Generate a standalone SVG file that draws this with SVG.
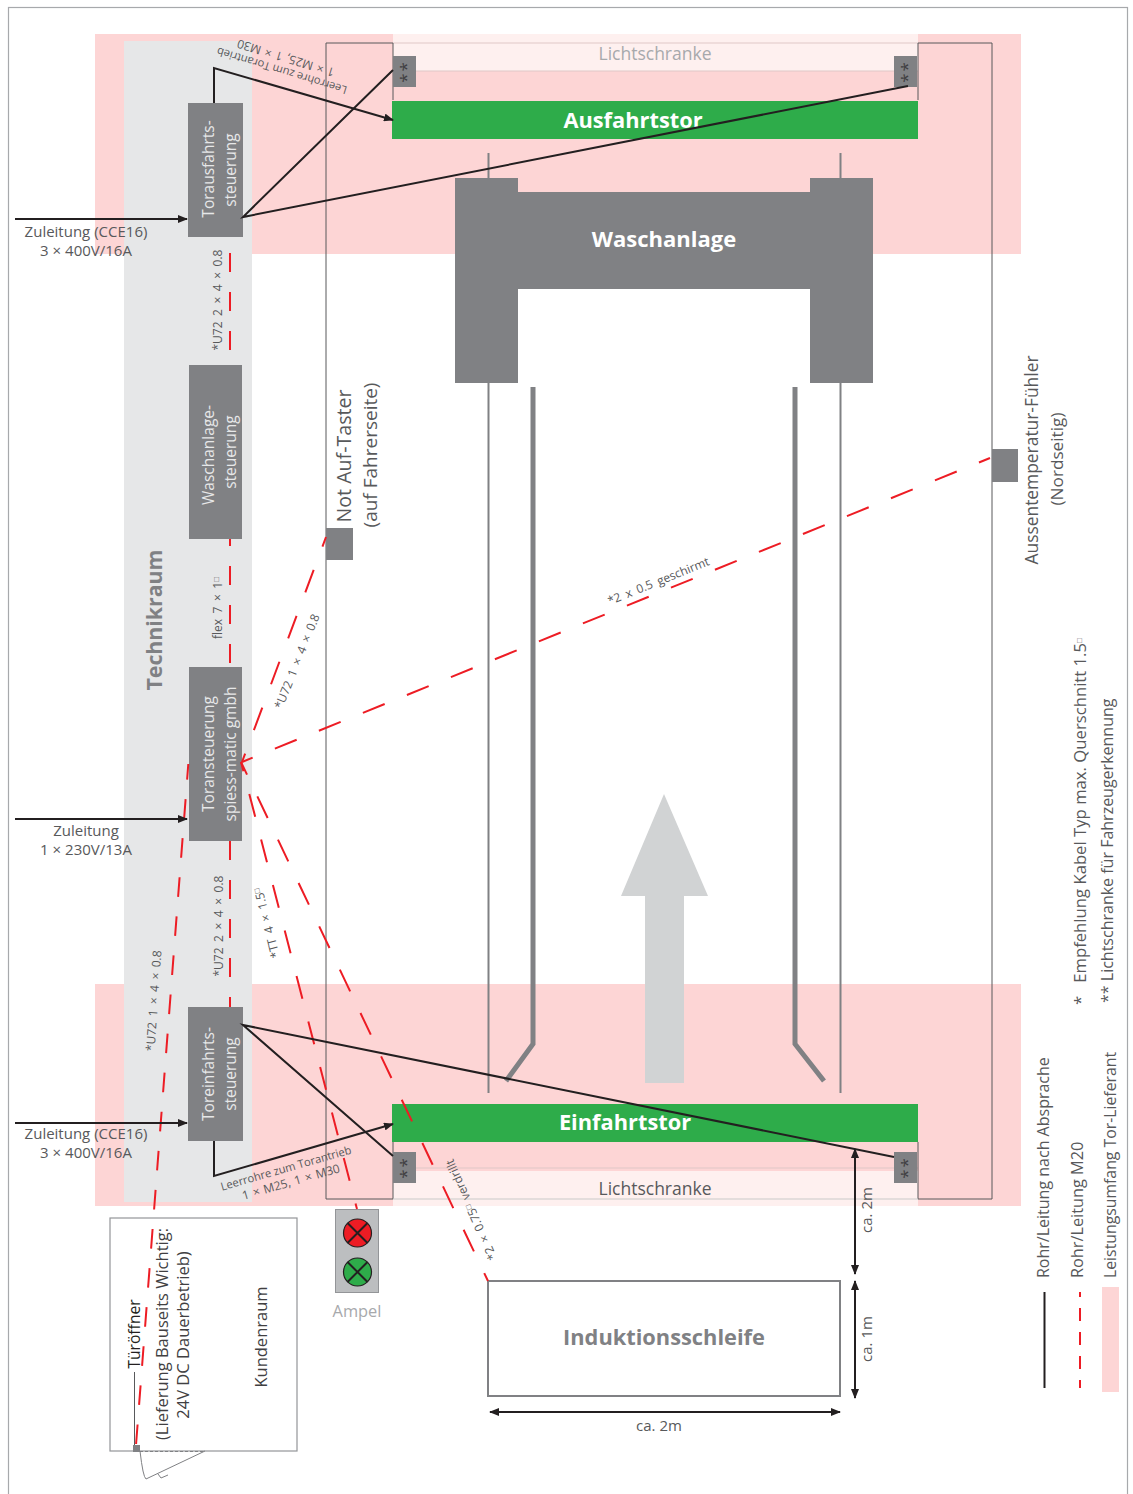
<svg xmlns="http://www.w3.org/2000/svg" width="1133" height="1494" viewBox="0 0 1133 1494">
<style>
text{font-family:"Open Sans","Noto Sans","Liberation Sans",sans-serif;fill:#58595b;font-size:15px}
.w{fill:#e6e7e8;font-size:15.500px;text-anchor:middle}
.m{text-anchor:middle}
.l{font-size:17.500px;text-anchor:middle}
.b{font-size:21.800px;font-weight:700;text-anchor:middle;fill:#fff}
.s{font-size:12px;text-anchor:middle;word-spacing:2.400px}
.h{font-size:12px;text-anchor:middle;word-spacing:1.200px}
.t{font-size:11.200px;text-anchor:middle}
.g{fill:#a7a9ac}
.n{fill:#808184}
.k{fill:none;stroke:#231f20;stroke-width:2}
.r{fill:none;stroke:#ed1c24;stroke-width:2}
.f{fill:none;stroke:#58595b;stroke-width:1}
.q{font-size:8px}
.st{font-size:17px;fill:#414042;text-anchor:middle;letter-spacing:2px}
.v{font-size:16.500px;fill:#414042;text-anchor:middle}
</style>
<defs>
<marker id="a" markerWidth="10" markerHeight="8" refX="9" refY="4" orient="auto-start-reverse" markerUnits="userSpaceOnUse"><path d="M0,0L10,4L0,8z" fill="#231f20"/></marker>
</defs>
<g id="background">
<rect x="8.500" y="7.500" width="1119" height="1500" fill="#fff" stroke="#a7a9ac" stroke-width="1.200"/>
<rect x="95" y="34" width="926" height="220" fill="#fdd5d5"/>
<rect x="95" y="984" width="926" height="222" fill="#fdd5d5"/>
<rect x="124" y="41" width="128" height="1161" fill="#e6e7e8"/>
<rect x="393" y="34" width="525" height="37" fill="#fef0ef"/>
<rect x="393" y="1171" width="525" height="35" fill="#fef0ef"/>
<path d="M393,43H918M393,71H918M393,1168H918" fill="none" stroke="#e0c8c8" stroke-width="1.200"/>
<path d="M393,100V43H326V1199H393V1142M918,100V43H992V1199H918V1142" class="f"/>
<path d="M393,1199H918" fill="none" stroke="#c9c9c9" stroke-width="1.200"/>
</g>
<g id="lanes">
<path d="M488.500,153V1093M840.500,153V1093" fill="none" stroke="#808184" stroke-width="2"/>
<path d="M533,387V1044L506,1081M795,387V1044L824,1081" fill="none" stroke="#808184" stroke-width="5"/>
</g>
<g id="waschanlage"><path d="M455,178H518V192H810V178H873V383H810V289H518V383H455z" class="n"/><text class="b" x="664" y="247" style="font-size:22px">Waschanlage</text></g>
<g id="travel-arrow"><path d="M664,794L708,896H684V1083H645V896H621z" fill="#d1d3d4"/></g>
<g id="ausfahrtstor"><rect x="392" y="101" width="526" height="38" fill="#2eac4a"/><text class="b" x="633" y="128">Ausfahrtstor</text></g>
<g id="einfahrtstor"><rect x="392" y="1104" width="526" height="38" fill="#2eac4a"/><text class="b" x="625" y="1130">Einfahrtstor</text></g>
<g id="lichtschranke-oben"><text class="l g" x="655" y="60">Lichtschranke</text>
<rect x="393" y="56" width="23" height="31" class="n"/><rect x="894" y="56" width="23" height="31" class="n"/>
<text class="st" transform="translate(412,71.500) rotate(-90)">**</text>
<text class="st" transform="translate(913,71.500) rotate(-90)">**</text></g>
<g id="lichtschranke-unten"><text class="l" x="655" y="1195">Lichtschranke</text>
<rect x="393" y="1152" width="23" height="31" class="n"/><rect x="894" y="1152" width="23" height="31" class="n"/>
<text class="st" transform="translate(412,1167.500) rotate(-90)">**</text>
<text class="st" transform="translate(913,1167.500) rotate(-90)">**</text></g>
<g id="technikraum"><text style="font-size:21.300px;font-weight:700;fill:#808184;text-anchor:middle" transform="translate(162,620) rotate(-90)">Technikraum</text></g>
<g id="torausfahrt"><rect x="188" y="103" width="55" height="134" class="n"/><text class="w" transform="translate(214,169) rotate(-90)">Torausfahrts-</text><text class="w" transform="translate(236,170) rotate(-90)">steuerung</text></g>
<g id="waschanlagesteuerung"><rect x="189" y="365" width="53" height="174" class="n"/><text class="w" transform="translate(214,455) rotate(-90)">Waschanlage-</text><text class="w" transform="translate(236,452) rotate(-90)">steuerung</text></g>
<g id="toransteuerung"><rect x="189" y="667" width="53" height="174" class="n"/><text class="w" transform="translate(214,754) rotate(-90)">Toransteuerung</text><text class="w" transform="translate(236,754) rotate(-90)">spiess-matic gmbh</text></g>
<g id="toreinfahrt"><rect x="188" y="1007" width="55" height="134" class="n"/><text class="w" transform="translate(214,1074) rotate(-90)">Toreinfahrts-</text><text class="w" transform="translate(236,1074) rotate(-90)">steuerung</text></g>
<g id="not-auf"><rect x="326" y="528" width="27" height="32" class="n"/><text class="m" style="font-size:19.600px" transform="translate(351,456) rotate(-90)">Not Auf-Taster</text><text class="m" style="font-size:19px" transform="translate(377,455) rotate(-90)">(auf Fahrerseite)</text></g>
<g id="aussentemp"><rect x="992" y="449" width="26" height="33" class="n"/><text class="m" style="font-size:17.400px" transform="translate(1038,460) rotate(-90)">Aussentemperatur-Fühler</text><text class="m" style="font-size:17.200px" transform="translate(1063,459) rotate(-90)">(Nordseitig)</text></g>
<g id="ampel"><rect x="335.500" y="1209.500" width="43" height="83" fill="#bcbec0" stroke="#939598"/>
<circle cx="357.500" cy="1233" r="14" fill="#ed1c24" stroke="#231f20" stroke-width="1.200"/><path d="M347.500,1223l20,20m0,-20l-20,20" class="k"/>
<circle cx="357.500" cy="1272" r="14" fill="#2eac4a" stroke="#231f20" stroke-width="1.200"/><path d="M347.500,1262l20,20m0,-20l-20,20" class="k"/>
<text class="g m" style="font-size:16.400px" x="357" y="1317">Ampel</text></g>
<g id="induktionsschleife"><rect x="488" y="1281" width="352" height="115" fill="#fff" stroke="#808184" stroke-width="2"/><text class="b" style="fill:#808184" x="664" y="1345">Induktionsschleife</text></g>
<g id="kundenraum"><rect x="110" y="1218" width="187" height="233" fill="#fff" stroke="#939598" stroke-width="1.200"/>
<path d="M134.500,1372V1445" fill="none" stroke="#58595b"/><rect x="133" y="1445" width="7" height="7" class="n"/>
<path d="M140,1451.500H205" fill="none" stroke="#808184" stroke-dasharray="3 2"/>
<path d="M205,1451L146,1479Q143,1477 140,1451M158,1474l3,4l7,-3" fill="none" stroke="#808184"/>
<text class="v" style="font-size:15.700px;fill:#231f20" transform="translate(140,1334) rotate(-90)">Türöffner</text>
<text class="v" transform="translate(168,1334) rotate(-90)">(Lieferung Bauseits Wichtig:</text>
<text class="v" transform="translate(189,1335) rotate(-90)">24V DC Dauerbetrieb)</text>
<text class="v" transform="translate(267,1337) rotate(-90)">Kundenraum</text></g>
<g id="connectors">
<path class="r" stroke-dasharray="19 20" d="M230,253V350"/>
<path class="r" stroke-dasharray="19 20" stroke-dashoffset="12" d="M230,539V663"/>
<path class="r" stroke-dasharray="19 20" d="M230,841V1007"/>
<path class="r" stroke-dasharray="24 25" stroke-dashoffset="15" d="M242,762L326,537"/>
<path class="r" stroke-dasharray="23.500 24" stroke-dashoffset="12" d="M242,762L990,458"/>
<path class="r" stroke-dasharray="23.500 23.500" stroke-dashoffset="14" d="M241,762L357,1209"/>
<path class="r" stroke-dasharray="24 24" stroke-dashoffset="10" d="M241,762L488,1281"/>
<path class="r" stroke-dasharray="19.600 19.600" stroke-dashoffset="4" d="M188.300,764L136,1445"/>
<path class="k" d="M15,219H187" marker-end="url(#a)"/>
<path class="k" d="M15,819H187" marker-end="url(#a)"/>
<path class="k" d="M15,1123H187" marker-end="url(#a)"/>
<path class="k" d="M214,103V68L393,120" marker-end="url(#a)"/>
<path class="k" d="M393,70L243,217L908,86"/>
<path class="k" d="M214,1141V1176L393,1124" marker-end="url(#a)"/>
<path class="k" d="M393,1156L243,1025L894,1157"/>
<path class="k" d="M855,1149V1274" marker-start="url(#a)" marker-end="url(#a)"/>
<path class="k" d="M855,1281V1398" marker-start="url(#a)" marker-end="url(#a)"/>
<path class="k" d="M490,1412H840" marker-start="url(#a)" marker-end="url(#a)"/>
</g>
<g id="labels">
<text class="m" x="86" y="237">Zuleitung (CCE16)</text><text class="m" x="86" y="256">3 × 400V/16A</text>
<text class="m" x="86" y="836">Zuleitung</text><text class="m" x="86" y="855">1 × 230V/13A</text>
<text class="m" x="86" y="1139">Zuleitung (CCE16)</text><text class="m" x="86" y="1158">3 × 400V/16A</text>
<text class="s" transform="translate(222,300) rotate(-90)">*U72  2 × 4 × 0.8</text>
<text class="s" transform="translate(222,608) rotate(-90)">flex 7 × 1<tspan class="q" dy="-3">□</tspan></text>
<text class="s" transform="translate(223,926) rotate(-90)">*U72  2 × 4 × 0.8</text>
<text class="s" transform="translate(301,663) rotate(-68)">*U72 1 × 4 × 0.8</text>
<text class="s" transform="translate(660,585) rotate(-22)">*2 x 0.5  geschirmt</text>
<text class="s" transform="translate(271,922) rotate(-104.500)">*TT  4 × 1.5<tspan class="q" dy="-3">□</tspan></text>
<text class="s" transform="translate(158,1001) rotate(-86)">*U72 1 × 4 × 0.8</text>
<text class="s" transform="translate(475,1208) rotate(-114)">*2 × 0.75<tspan class="q" dy="-3">□</tspan><tspan dy="3">  verdrillt</tspan></text>
<text class="t" transform="translate(283,67) rotate(197)">Leerrohre zum Torantrieb</text>
<text class="h" transform="translate(287,54) rotate(197)">1 × M25, 1 × M30</text>
<text class="t" transform="translate(287,1172) rotate(-16)">Leerrohre zum Torantrieb</text>
<text class="h" transform="translate(292,1186) rotate(-16)">1 × M25, 1 × M30</text>
<text class="m" transform="translate(872,1210) rotate(-90)">ca. 2m</text>
<text class="m" transform="translate(872,1339) rotate(-90)">ca. 1m</text>
<text class="m" x="659" y="1431">ca. 2m</text>
<text style="font-size:16.700px;white-space:pre" transform="translate(1086,1005) rotate(-90)">*   Empfehlung Kabel Typ max. Querschnitt 1.5<tspan class="q" dy="-4">□</tspan></text>
<text style="font-size:16px" transform="translate(1113,1003) rotate(-90)">** Lichtschranke für Fahrzeugerkennung</text>
</g>
<g id="legend">
<path class="k" d="M1044.500,1292V1388"/><text style="font-size:16px" transform="translate(1049,1278) rotate(-90)">Rohr/Leitung nach Absprache</text>
<path class="r" stroke-dasharray="13 11" stroke-dashoffset="8" d="M1080,1292V1388"/><text style="font-size:16.300px" transform="translate(1083,1278) rotate(-90)">Rohr/Leitung M20</text>
<rect x="1102" y="1287" width="17" height="105" fill="#fdd5d5"/><text style="font-size:15.800px" transform="translate(1116,1278) rotate(-90)">Leistungsumfang Tor-Lieferant</text>
</g>
</svg>
